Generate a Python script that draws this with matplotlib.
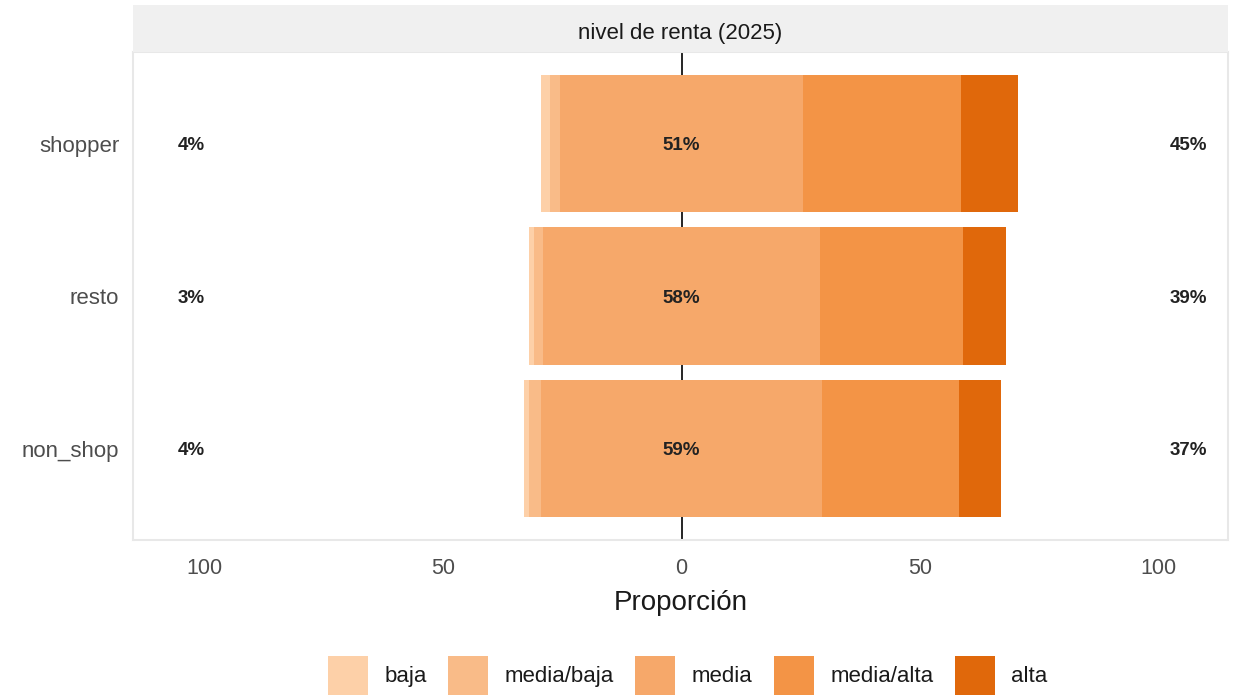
import matplotlib
matplotlib.use("Agg")
import matplotlib.pyplot as plt
from matplotlib.patches import Patch

plt.rcParams["font.family"] = ["Liberation Sans", "DejaVu Sans"]

groups = ["non_shop", "resto", "shopper"]
levels = ["baja", "media/baja", "media", "media/alta", "alta"]
baja = [1.2, 1.0, 2.0]
media_baja = [2.4, 2.0, 2.0]
media = [59.0, 58.0, 51.0]
media_alta = [28.6, 30.0, 33.0]
alta = [8.8, 9.0, 12.0]
low_labels = ["4%", "3%", "4%"]
mid_labels = ["59%", "58%", "51%"]
high_labels = ["37%", "39%", "45%"]
xticks = [-100, -50, 0, 50, 100]
xticklabels = ["100", "50", "0", "50", "100"]

colors = ["#FDD0A8", "#F9BB88", "#F6A86A", "#F39446", "#E0680B"]

fig = plt.figure(figsize=(12.35, 6.95), dpi=100)
ax = fig.add_axes([0.1077, 0.223, 0.8866, 0.702])

ax.axvline(0, color="black", lw=1.2, zorder=0)

h = 0.9
for i, g in enumerate(groups):
    m = media[i]
    left_start = -(m / 2)
    ax.barh(i, -m / 2, left=0, height=h, color=colors[2], zorder=2)
    ax.barh(i, -media_baja[i], left=left_start, height=h, color=colors[1], zorder=2)
    ax.barh(i, -baja[i], left=left_start - media_baja[i], height=h, color=colors[0], zorder=2)
    ax.barh(i, m / 2, left=0, height=h, color=colors[2], zorder=2)
    ax.barh(i, media_alta[i], left=m / 2, height=h, color=colors[3], zorder=2)
    ax.barh(i, alta[i], left=m / 2 + media_alta[i], height=h, color=colors[4], zorder=2)
    kw = dict(ha="center", va="center_baseline", fontsize=13.5, color="#222222", fontweight="bold", zorder=3)
    ax.text(-102.8, i, low_labels[i], **kw)
    ax.text(0, i, mid_labels[i], **kw)
    ax.text(106.3, i, high_labels[i], **kw)

ax.set_xlim(-115, 114.5)
ax.set_ylim(-0.6, 2.6)
ax.set_yticks(range(len(groups)))
ax.set_yticklabels(groups, fontsize=16, color="#4D4D4D", va="center_baseline")
ax.set_xticks(xticks)
ax.set_xticklabels(xticklabels, fontsize=15.5, color="#4D4D4D")
ax.tick_params(axis="y", length=0, pad=10)
ax.tick_params(axis="x", length=0, pad=13)
ax.set_xlabel("Proporción", fontsize=20, color="#1a1a1a", labelpad=8)
for s in ax.spines.values():
    s.set_color("#E8E8E8")
    s.set_linewidth(1.5)

sax = fig.add_axes([0.1077, 0.925, 0.8866, 0.068])
sax.set_xticks([]); sax.set_yticks([])
sax.set_facecolor("#F0F0F0")
for s in sax.spines.values():
    s.set_visible(False)
sax.text(0.5, 0.4, "nivel de renta (2025)", ha="center", va="center", fontsize=16,
         color="#1a1a1a", transform=sax.transAxes)

handles = [Patch(facecolor=c, edgecolor="none", label=l) for c, l in zip(colors, levels)]
fig.legend(handles=handles, loc="center", bbox_to_anchor=(0.557, 0.028), ncol=5, frameon=False,
           fontsize=16, handlelength=1.8, handleheight=2.3, handletextpad=0.75, columnspacing=0.95,
           labelcolor="#1a1a1a", borderaxespad=0, borderpad=0)

fig.savefig("out.png", dpi=100)
